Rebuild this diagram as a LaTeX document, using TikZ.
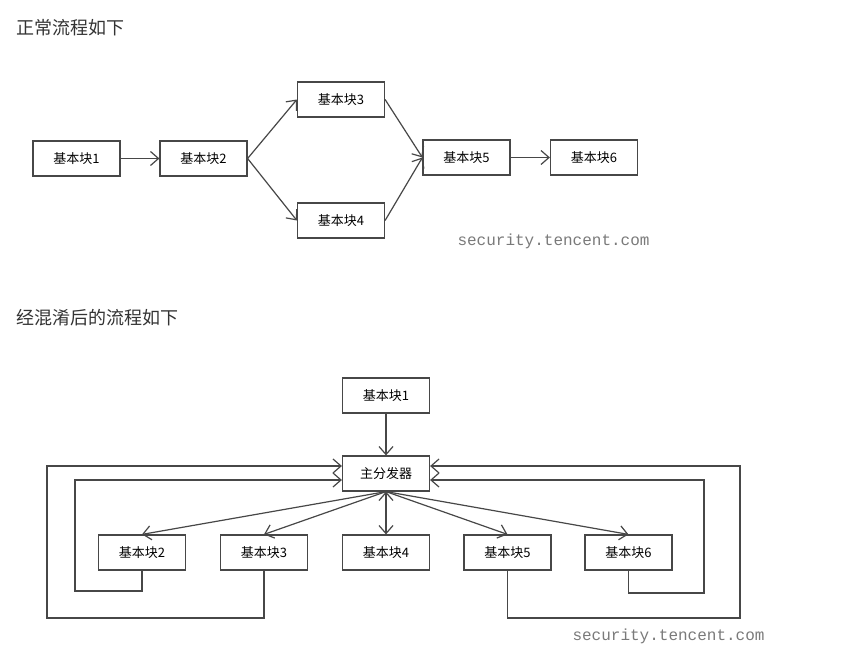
\documentclass[tikz,border=0pt]{standalone}
\usepackage{fontspec}
\setmainfont{Noto Sans CJK SC}
\newfontfamily\markfont{Liberation Mono}
\usetikzlibrary{arrows.meta,positioning}
\definecolor{linegray}{HTML}{474747}
\definecolor{textgray}{HTML}{333333}
\definecolor{markgray}{HTML}{7A7A7A}

\tikzset{
  blockbox/.style={draw=linegray, line width=1.2pt, fill=white, minimum width=87pt,
    minimum height=35pt, inner sep=0pt, text=black, font=\fontsize{13}{15}\selectfont},
  flow/.style={draw=linegray, line width=1.2pt, -{Straight Barb[length=8pt,width=14pt]}},
  flowboth/.style={flow, {Straight Barb[length=8pt,width=14pt]}-{Straight Barb[length=8pt,width=14pt]}},
  heading/.style={anchor=west, text=textgray, font=\fontsize{18}{20}\selectfont},
  watermark/.style={anchor=west, text=markgray, font=\markfont\fontsize{16}{18}\selectfont},
}

\begin{document}
\begin{tikzpicture}[x=1pt, y=-1pt]
\useasboundingbox[fill=white] (0,0) rectangle (843,664);

% normal flow
\node[heading] (title1) at (13,28) {正常流程如下};
\node[blockbox] (n1) at (76.5,158.5) {基本块1};
\node[blockbox] (n2) at (203.5,158.5) {基本块2};
\node[blockbox] (n3) at (341,99.5) {基本块3};
\node[blockbox] (n4) at (341,220.5) {基本块4};
\node[blockbox] (n5) at (466.5,157.5) {基本块5};
\node[blockbox] (n6) at (594,157.5) {基本块6};
\node[watermark] (mark1) at (454,241) {security.tencent.com};

\draw[flow] (n1) -- (n2);
\draw[flow] (n2.east) -- (n3.west);
\draw[flow] (n2.east) -- (n4.west);
\draw[flow] (n3.east) -- (n5.west);
\draw[flow] (n4.east) -- (n5.west);
\draw[flow] (n5) -- (n6);

% flattened flow
\node[heading] (title2) at (13,318) {经混淆后的流程如下};
\node[blockbox] (o1) at (386,395.5) {基本块1};
\node[blockbox] (disp) at (386,473.5) {主分发器};
\node[blockbox] (o2) at (142,552.5) {基本块2};
\node[blockbox] (o3) at (264,552.5) {基本块3};
\node[blockbox] (o4) at (386,552.5) {基本块4};
\node[blockbox] (o5) at (507.5,552.5) {基本块5};
\node[blockbox] (o6) at (628.5,552.5) {基本块6};
\node[watermark] (mark2) at (569,636) {security.tencent.com};

\draw[flow] (o1) -- (disp);
\foreach \b in {o2,o3,o5,o6}
  \draw[flow] (disp.south) -- (\b.north);
\draw[flowboth] (disp) -- (o4);

% back edges
\draw[flow] (o2.south) |- (75,591) |- ([yshift=-6.5pt]disp.west);
\draw[flow] (o3.south) |- (47,618) |- ([yshift=7.5pt]disp.west);
\draw[flow] (o5.south) |- (740,618) |- ([yshift=7.5pt]disp.east);
\draw[flow] (o6.south) |- (704,593) |- ([yshift=-6.5pt]disp.east);
\end{tikzpicture}
\end{document}
